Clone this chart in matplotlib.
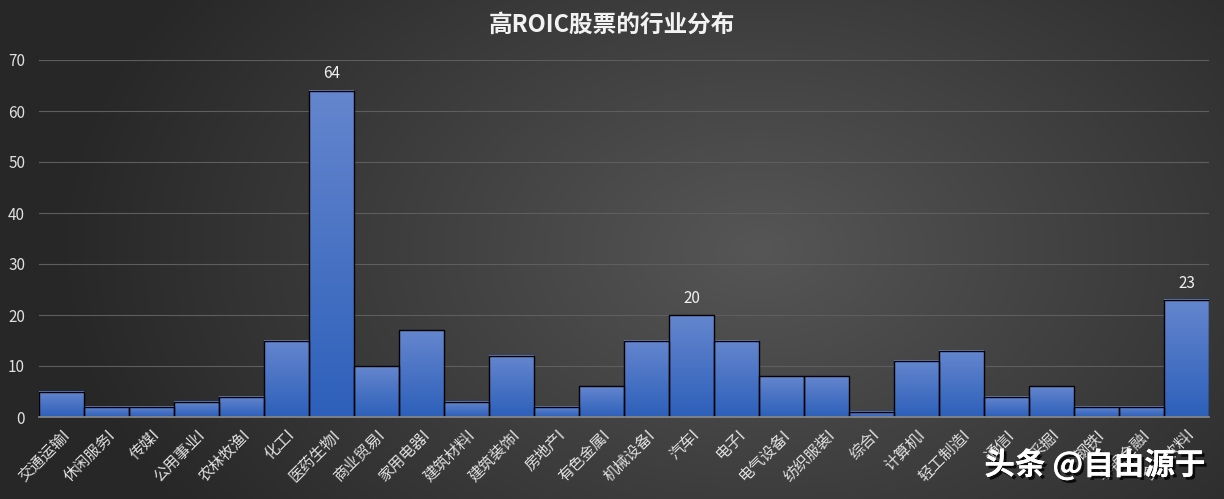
import numpy as np
import matplotlib
matplotlib.use("Agg")
import matplotlib.pyplot as plt
import matplotlib.patheffects as pe

plt.rcParams['font.family'] = ['Noto Sans CJK SC', 'DejaVu Sans']

categories = ['交通运输I', '休闲服务I', '传媒I', '公用事业I', '农林牧渔I', '化工I', '医药生物I',
              '商业贸易I', '家用电器I', '建筑材料I', '建筑装饰I', '房地产I', '有色金属I', '机械设备I',
              '汽车I', '电子I', '电气设备I', '纺织服装I', '综合I', '计算机I', '轻工制造I', '通信I',
              '采掘I', '钢铁I', '非银金融I', '食品饮料I']
values = [5, 2, 2, 3, 4, 15, 64, 10, 17, 3, 12, 2, 6, 15, 20, 15, 8, 8, 1, 11, 13, 4, 6, 2, 2, 23]
labeled = ['医药生物I', '汽车I', '食品饮料I']
title = '高ROIC股票的行业分布'
yticks = [0, 10, 20, 30, 40, 50, 60, 70]

W, H = 1224, 499
fig = plt.figure(figsize=(W / 100, H / 100), dpi=100)

# background radial gradient
bg = fig.add_axes([0, 0, 1, 1], zorder=-10)
yy, xx = np.mgrid[0:1:300j, 0:1:600j]
r = np.sqrt(((xx - 0.62) * 1.3) ** 2 + ((yy - 0.5) * 0.8) ** 2)
r = np.clip(r / 0.75, 0, 1)
c0 = np.array([0x56, 0x56, 0x56]) / 255
c1 = np.array([0x27, 0x27, 0x27]) / 255
img = c0[None, None, :] * (1 - r[..., None]) + c1[None, None, :] * r[..., None]
bg.imshow(img, extent=[0, 1, 0, 1], aspect='auto', origin='lower')
bg.set_axis_off()

ax = fig.add_axes([39 / W, 1 - 417 / H, 1170 / W, (417 - 60) / H])
ax.patch.set_alpha(0)
x = np.arange(len(categories))
bars = ax.bar(x, values, width=1.0, color='none', edgecolor='black', linewidth=1.0, zorder=3)

top_c = np.array([0x65, 0x86, 0xCE]) / 255
bot_c = np.array([0x2D, 0x60, 0xBA]) / 255
grad = np.linspace(0, 1, 256)[:, None, None]
gimg = bot_c[None, None, :] * (1 - grad) + top_c[None, None, :] * grad
for b in bars:
    x0 = b.get_x(); w = b.get_width(); h = b.get_height()
    ax.imshow(gimg, extent=[x0, x0 + w, 0, h], aspect='auto', origin='lower', zorder=2)

for b, cat, v in zip(bars, categories, values):
    if cat in labeled:
        ax.text(b.get_x() + b.get_width() / 2, v + 1.6, str(v), ha='center', va='bottom',
                color='#f0f0f0', fontsize=11, zorder=5)

ax.set_xlim(-0.5, len(categories) - 0.5)
ax.set_ylim(0, 70)
ax.set_yticks(yticks)
ax.set_yticklabels([str(t) for t in yticks], color='#e0e0e0', fontsize=11)
ax.set_xticks(x)
ax.set_xticklabels(categories, rotation=45, ha='right', va='top', rotation_mode='anchor',
                   color='#e0e0e0', fontsize=11)
ax.tick_params(axis='both', length=0)
ax.tick_params(axis='x', pad=7)
ax.tick_params(axis='y', pad=10)
ax.grid(axis='y', color='#5e5e5e', linewidth=0.8, zorder=0)
ax.set_axisbelow(True)
for s in ['top', 'right', 'left']:
    ax.spines[s].set_visible(False)
ax.spines['bottom'].set_color('#8c8c8c')
ax.spines['bottom'].set_linewidth(1.2)
ax.spines['bottom'].set_zorder(4)

fig.text(0.5, 1 - 25 / H, title, ha='center', va='center', color='#f2f2f2',
         fontsize=17, fontweight='bold')

fig.text(1205 / W, 1 - 465 / H, '头条 @自由源于', ha='right', va='center', color='white',
         fontsize=22, fontweight='bold',
         path_effects=[pe.withSimplePatchShadow(offset=(2, -2), shadow_rgbFace='black', alpha=0.8),
                       pe.Normal()], zorder=10)

fig.savefig('out.png', dpi=100)
